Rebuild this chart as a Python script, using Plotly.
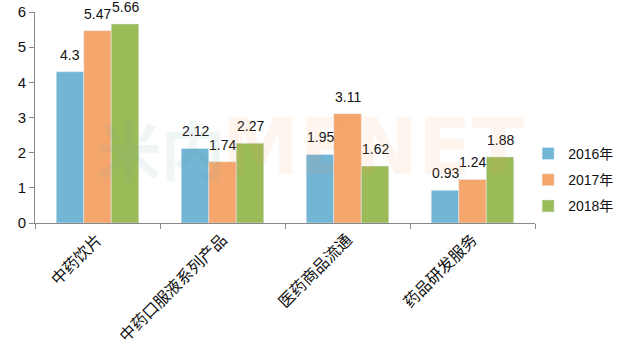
import plotly.graph_objects as go

categories = ["中药饮片", "中药口服液系列产品", "医药商品流通", "药品研发服务"]
series_names = ["2016年", "2017年", "2018年"]
v2016 = [4.3, 2.12, 1.95, 0.93]
v2017 = [5.47, 1.74, 3.11, 1.24]
v2018 = [5.66, 2.27, 1.62, 1.88]
y_ticks = [0, 1, 2, 3, 4, 5, 6]

colors = ["#72b5d5", "#f5a66d", "#9bbb59"]
values = [v2016, v2017, v2018]

W, H = 625, 362
ML, MR, MT, MB = 35, 90, 12, 139
plot_w = W - ML - MR
bargap = 0.34
bar_px = plot_w / len(categories) * (1 - bargap) / len(series_names)
num_font = "Liberation Sans, Arial, sans-serif"

fig = go.Figure()
for i, (name, vals, c) in enumerate(zip(series_names, values, colors)):
    fig.add_trace(go.Bar(
        x=categories, y=vals, name=name, marker_color=c,
        legendgroup=name,
    ))
    shift = (i - (len(series_names) - 1) / 2) * bar_px
    for cat, v in zip(categories, vals):
        fig.add_annotation(
            x=cat, y=v, text=f"{v:g}", showarrow=False,
            xshift=shift, yshift=7, yanchor="bottom",
            font=dict(size=14, color="#111", family=num_font),
        )

# faint watermark
fig.add_annotation(
    text="<b>米内</b>", xref="paper", yref="paper", x=0.12, y=0.36,
    xanchor="left", showarrow=False,
    font=dict(size=64, color="rgba(110,170,160,0.10)", family="Noto Sans CJK SC"),
)
fig.add_annotation(
    text="<b>MENET</b>", xref="paper", yref="paper", x=0.37, y=0.36,
    xanchor="left", showarrow=False,
    font=dict(size=78, color="rgba(245,160,100,0.10)", family="DejaVu Sans"),
)

fig.update_layout(
    width=W, height=H,
    margin=dict(l=ML, r=MR, t=MT, b=MB, autoexpand=False),
    plot_bgcolor="white", paper_bgcolor="white",
    barmode="group", bargap=bargap, bargroupgap=0,
    font=dict(family="Liberation Sans, Noto Sans CJK SC", color="#111"),
    legend=dict(xref="container", yref="container", x=0.845, y=0.503,
                xanchor="left", yanchor="middle",
                font=dict(size=14, family="Liberation Sans, Noto Sans CJK SC"),
                itemwidth=30, tracegroupgap=5, traceorder="grouped"),
    showlegend=True,
)
fig.update_xaxes(
    automargin=False,
    showline=True, linecolor="#888", linewidth=1,
    ticks="outside", ticklen=5, tickcolor="#888", tickson="boundaries",
    tickangle=-45, tickfont=dict(size=16, family="Noto Sans CJK SC", color="#111"),
)
fig.update_yaxes(
    automargin=False,
    range=[0, 6], tickvals=y_ticks, showgrid=False, zeroline=False,
    showline=True, linecolor="#888", linewidth=1,
    ticks="outside", ticklen=5, tickcolor="#888",
    tickfont=dict(size=15, family=num_font, color="#111"),
)

fig.write_html("out.html", config={"displayModeBar": False},
               post_script="document.body.style.margin='0px';")
